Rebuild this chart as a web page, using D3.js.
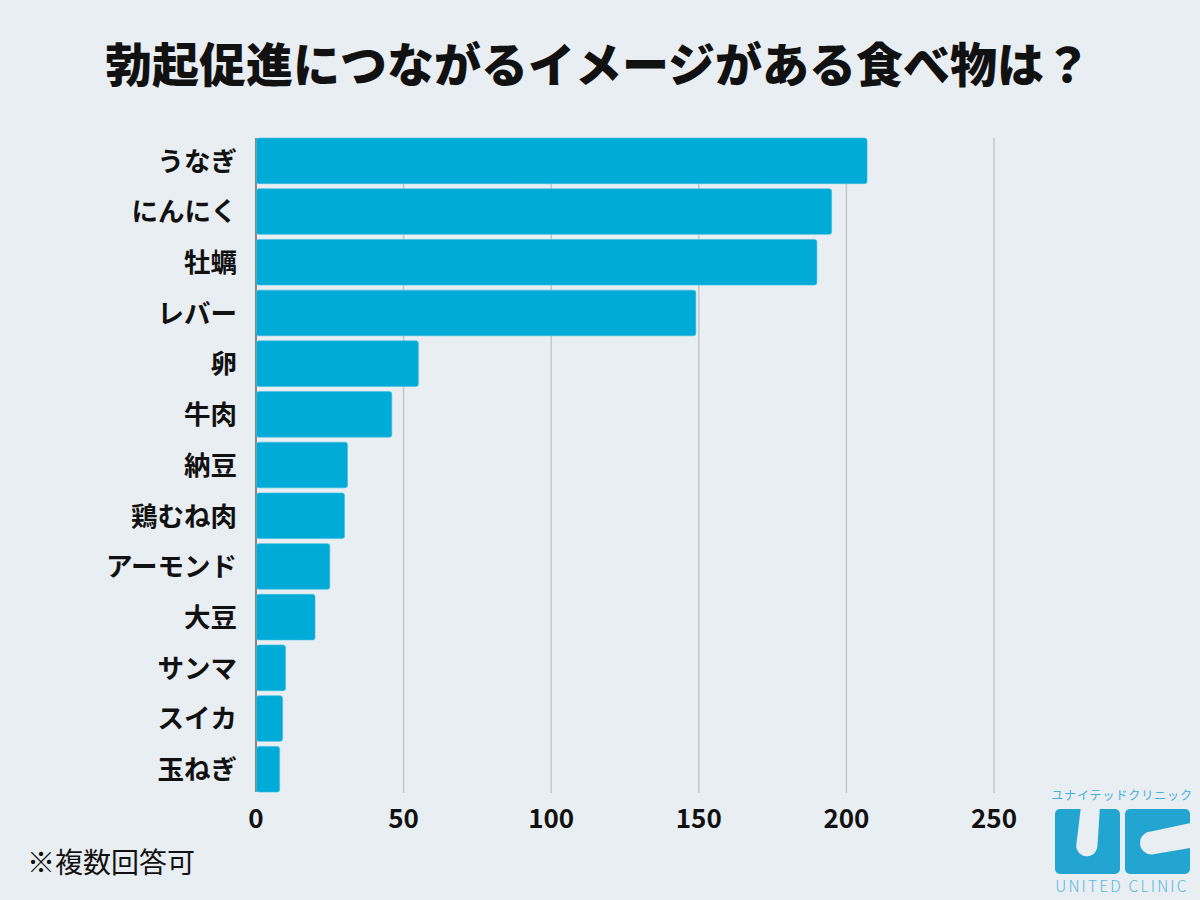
<!DOCTYPE html>
<html><head><meta charset="utf-8">
<script src="https://cdn.jsdelivr.net/npm/d3@7"></script>
<style>
html,body{margin:0;padding:0;background:#e9eef3;}
svg{display:block;}
text{font-family:"Noto Sans CJK JP","Noto Sans",sans-serif;}
</style></head>
<body>
<script>
const categories = ["うなぎ","にんにく","牡蠣","レバー","卵","牛肉","納豆","鶏むね肉","アーモンド","大豆","サンマ","スイカ","玉ねぎ"];
const values = [207,195,190,149,55,46,31,30,25,20,10,9,8];
const ticks = [0,50,100,150,200,250];
const title = "勃起促進につながるイメージがある食べ物は？";
const note = "※複数回答可";
const logoJa = "ユナイテッドクリニック";
const logoEn = "UNITED CLINIC";

const W = 1200, H = 900;
const svg = d3.select("body").append("svg").attr("width", W).attr("height", H);
svg.append("rect").attr("width", W).attr("height", H).attr("fill", "#e9eef3");

const x = d3.scaleLinear().domain([0,250]).range([256,994]);
const y = d3.scaleBand().domain(categories).range([135.5,794.6]).paddingInner(0.1).paddingOuter(0.05);

// title
svg.append("text").attr("x", 598).attr("y", 82).attr("text-anchor","middle")
  .attr("font-size", 47).attr("font-weight", 900).attr("fill","#111").text(title);

// grid
const gTop = y(categories[0]), gBot = y(categories[categories.length-1]) + y.bandwidth();
svg.append("g").selectAll("line").data(ticks.filter(t=>t>0)).join("line")
  .attr("x1", d=>x(d)).attr("x2", d=>x(d)).attr("y1", gTop).attr("y2", gBot+1)
  .attr("stroke", "#c3c7cc").attr("stroke-width", 1.5);

// axis line
svg.append("line").attr("x1", x(0)).attr("x2", x(0)).attr("y1", gTop).attr("y2", gBot)
  .attr("stroke", "#666").attr("stroke-width", 1.5);

// bars
svg.append("g").selectAll("rect").data(values).join("rect")
  .attr("x", x(0)+0.5).attr("y", (d,i)=>y(categories[i]))
  .attr("width", d=>x(d)-x(0)-0.5).attr("height", y.bandwidth())
  .attr("rx", 2.5).attr("fill", "#00abd7")
  .attr("stroke", "#3fbde0").attr("stroke-width", 0.6);

// category labels
svg.append("g").selectAll("text").data(categories).join("text")
  .attr("x", 237).attr("y", d=>y(d)+y.bandwidth()/2).attr("dy","0.37em")
  .attr("text-anchor","end").attr("font-size", 26.5).attr("font-weight", 700).attr("fill","#111")
  .text(d=>d);

// tick labels
svg.append("g").selectAll("text").data(ticks).join("text")
  .attr("x", d=>x(d)).attr("y", 828).attr("text-anchor","middle")
  .attr("font-size", 26).attr("font-weight", 700).attr("fill","#111")
  .text(d=>d);

// note
svg.append("text").attr("x", 27).attr("y", 873).attr("font-size", 28).attr("fill","#111").text(note);

// logo
const lc = "#22a6d1", bg = "#e9eef3";
const lg = svg.append("g");
lg.append("text").attr("x", 1122).attr("y", 800).attr("text-anchor","middle")
  .attr("font-size", 12).attr("letter-spacing", 0.9).attr("fill", "#3eb0da").text(logoJa);
lg.append("rect").attr("x",1055).attr("y",809).attr("width",65).attr("height",65).attr("rx",5).attr("fill",lc);
lg.append("rect").attr("x",1125).attr("y",809).attr("width",65).attr("height",65).attr("rx",5).attr("fill",lc);
// U notch
lg.append("path").attr("d","M1081,806 L1100,806 L1097.5,845 A10.5,10.5 0 0 1 1076.2,846 Z").attr("fill",bg);
// C notch
lg.append("path").attr("d","M1193,822.5 L1193,847.5 L1152,854.5 A11.5,11.5 0 0 1 1151,831.5 Z").attr("fill",bg);
lg.append("text").attr("x", 1122).attr("y", 892).attr("text-anchor","middle")
  .attr("font-size", 15.5).attr("font-weight", 300).attr("letter-spacing", 2.2)
  .attr("font-family","Lato, 'Noto Sans', sans-serif").attr("fill", "#56b9de").text(logoEn);
</script>
</body></html>
